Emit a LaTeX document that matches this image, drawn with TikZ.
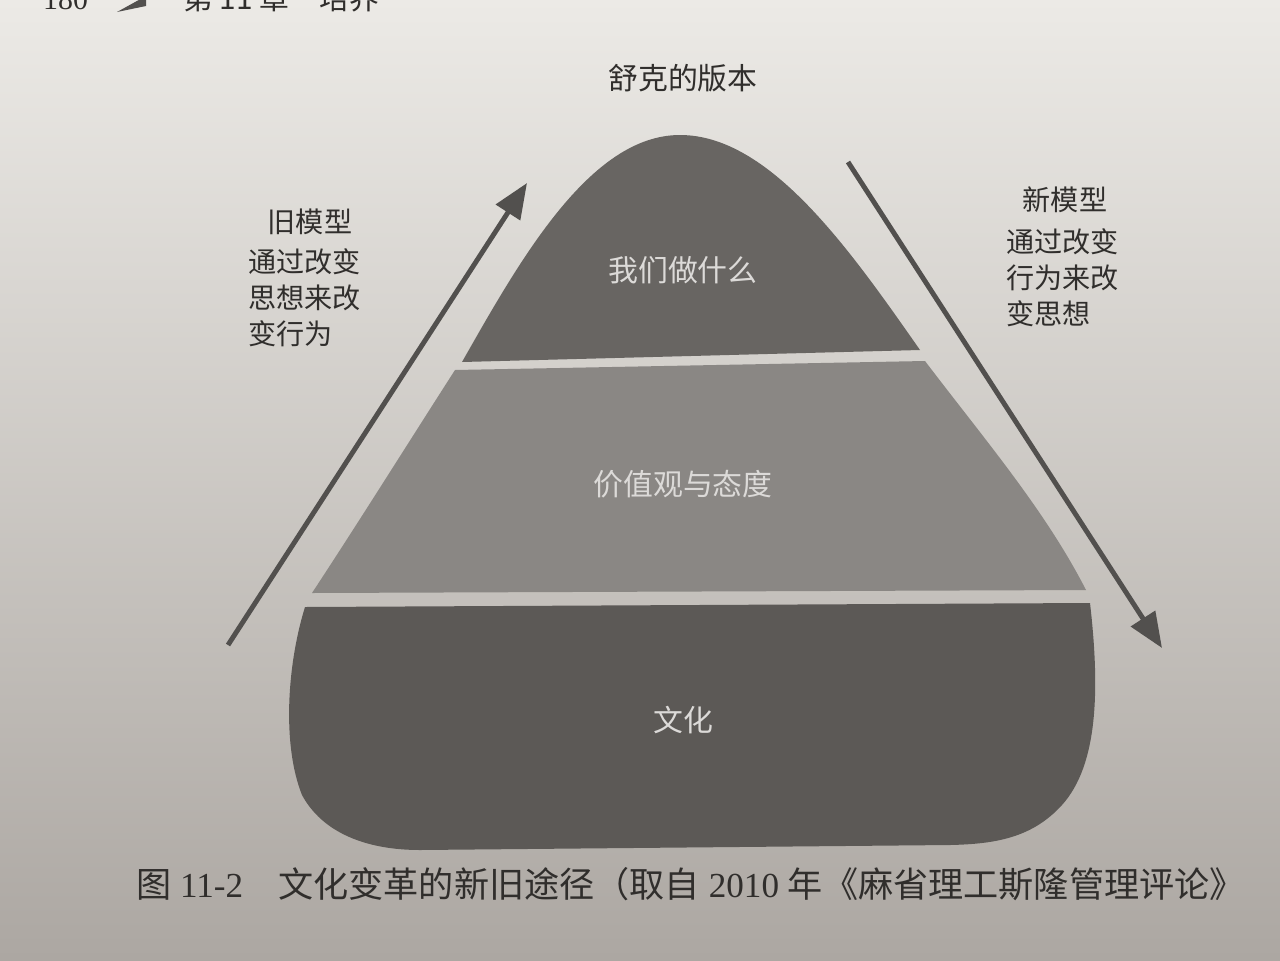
\documentclass[tikz,border=0pt]{standalone}
\usepackage{fontspec}
\setmainfont{Liberation Serif}
\newfontfamily\cjk{Noto Sans CJK SC}
\usetikzlibrary{arrows.meta}

\definecolor{paper}{RGB}{236,234,230}
\definecolor{paperdark}{RGB}{172,167,162}
\definecolor{layertop}{RGB}{104,101,98}
\definecolor{layermid}{RGB}{138,135,132}
\definecolor{layerbot}{RGB}{92,89,86}
\definecolor{ink}{RGB}{48,46,44}
\definecolor{arrowgray}{RGB}{82,80,78}
\definecolor{labelwhite}{RGB}{220,218,216}

\tikzset{
  layertext/.style={text=labelwhite, font=\cjk\fontsize{17}{20}\selectfont},
  sidehead/.style={text=ink, font=\cjk\fontsize{16}{20}\selectfont},
  sidebody/.style={text=ink, align=left, anchor=north west, inner sep=0pt, font=\cjk\fontsize{16}{20.5}\selectfont},
  modelarrow/.style={draw=arrowgray, line width=2.8pt, -{Triangle[length=20pt,width=16pt]}},
}

\begin{document}
\begin{tikzpicture}[x=0.02cm, y=-0.02cm]
\useasboundingbox (0,0) rectangle (1280,960);
\clip (0,0) rectangle (1280,960);
\fill[top color=paper, bottom color=paperdark] (0,0) rectangle (1280,960);

\node[anchor=base west, text=ink, font=\fontsize{17}{20}\selectfont] (pagenum) at (37,10) {180};
\fill[arrowgray] (117,12) -- (146,-4) -- (146,6) -- cycle;
\node[anchor=base west, text=ink, font=\cjk\fontsize{17}{20}\selectfont] (chapter) at (177,10) {第 11 章\quad 培养};

\fill[layertop] (462,362) .. controls (520,260) and (590,135) .. (680,135)
  .. controls (770,135) and (850,250) .. (920,350) -- cycle;
\fill[layermid] (455,370) -- (925,361) .. controls (985,440) and (1045,510) .. (1086,590)
  -- (312,593) .. controls (360,520) and (410,440) .. cycle;
\fill[layerbot] (305,607) -- (1090,603) .. controls (1100,690) and (1098,765) .. (1062,805)
  .. controls (1032,838) and (995,844) .. (950,845) -- (420,850)
  .. controls (365,850) and (322,832) .. (302,795)
  .. controls (282,745) and (287,665) .. cycle;

\node[layertext] (doing) at (683,270) {我们做什么};
\node[layertext] (values) at (683,484) {价值观与态度};
\node[layertext] (culture) at (683,720) {文化};

\node[text=ink, font=\cjk\fontsize{17}{20}\selectfont] (version) at (683,78) {舒克的版本};

\node[sidehead] (oldhead) at (310,222) {旧模型};
\node[sidebody] (oldbody) at (248,248) {通过改变\\思想来改\\变行为};
\node[sidehead] (newhead) at (1065,200) {新模型};
\node[sidebody] (newbody) at (1006,228) {通过改变\\行为来改\\变思想};

\coordinate (oldtail) at (228,645);
\coordinate (oldtip) at (527,183);
\coordinate (newtail) at (848,162);
\coordinate (newtip) at (1162,648);
\draw[modelarrow] (oldtail) -- (oldtip);
\draw[modelarrow] (newtail) -- (newtip);

\node[anchor=base west, text=ink, font=\fontsize{20}{24}\selectfont] (caption) at (130,897)
  {{\cjk 图} 11-2\quad{\cjk 文化变革的新旧途径（取自} 2010 {\cjk 年《麻省理工斯隆管理评论》}};
\end{tikzpicture}
\end{document}
